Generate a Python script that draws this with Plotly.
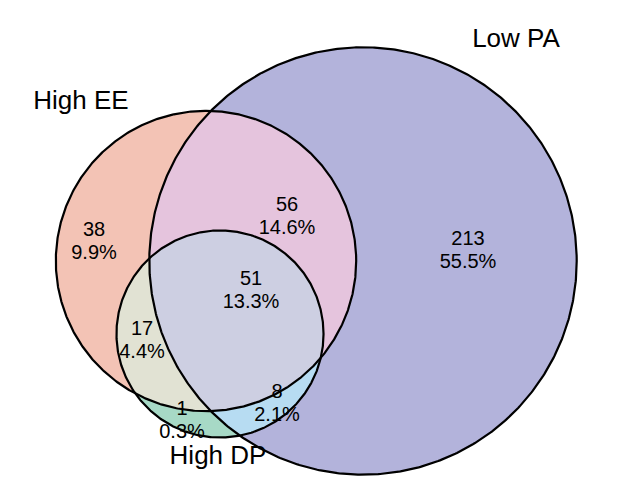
import numpy as np
import plotly.graph_objects as go

# --- data ---------------------------------------------------------------
set_names = ["High EE", "Low PA", "High DP"]

# region -> which sets it belongs to (index into set_names)
region_sets = [(0,), (1,), (2,), (0, 1), (0, 2), (1, 2), (0, 1, 2)]
region_counts = [38, 213, 1, 56, 17, 8, 51]

# --- layout (pixels on a 644x487 canvas) -------------------------------
W, H = 644, 487
PAGE_MARGIN = 8             # default body margin of the html page
centers = [(206, 261), (363, 261), (220, 334)]
px_per_sqrt = 11.8          # circle area proportional to set size

region_colors = ["#F3C3B5", "#B3B3DB", "#A7D9C6",
                 "#E5C4DD", "#E1E2D3", "#B7DCF2", "#CDCFE2"]

# label centres for each region (count above, percent below)
region_label_pos = [(94, 242), (468, 251), (182, 421),
                    (287, 217), (142, 341), (277, 404), (251, 291)]
set_label_pos = [(81, 102), (516, 40), (218, 457)]

FONT = "Liberation Sans, Arial, sans-serif"

total = sum(region_counts)
set_sizes = [sum(c for s, c in zip(region_sets, region_counts) if i in s)
             for i in range(len(set_names))]
radii = [px_per_sqrt * np.sqrt(n) for n in set_sizes]


def circle_pts(i, n=720):
    t = np.linspace(0, 2 * np.pi, n, endpoint=False)
    cx, cy = centers[i]
    return np.column_stack([cx + radii[i] * np.cos(t), cy + radii[i] * np.sin(t)])


def inside(p, j, eps=1e-6):
    cx, cy = centers[j]
    return np.hypot(p[:, 0] - cx, p[:, 1] - cy) <= radii[j] + eps


def pair_points(i, j):
    (x0, y0), (x1, y1) = centers[i], centers[j]
    r0, r1 = radii[i], radii[j]
    d = np.hypot(x1 - x0, y1 - y0)
    if d > r0 + r1 or d < abs(r0 - r1):
        return np.empty((0, 2))
    a = (r0**2 - r1**2 + d**2) / (2 * d)
    h = np.sqrt(max(r0**2 - a**2, 0))
    mx, my = x0 + a * (x1 - x0) / d, y0 + a * (y1 - y0) / d
    return np.array([[mx + h * (y1 - y0) / d, my - h * (x1 - x0) / d],
                     [mx - h * (y1 - y0) / d, my + h * (x1 - x0) / d]])


def intersection_polygon(sets):
    # intersection of circles is convex: collect boundary points, sort by angle
    pts = []
    for i in sets:
        p = circle_pts(i)
        keep = np.ones(len(p), bool)
        for j in sets:
            if j != i:
                keep &= inside(p, j)
        pts.append(p[keep])
    for a in range(len(sets)):
        for b in range(a + 1, len(sets)):
            p = pair_points(sets[a], sets[b])
            keep = np.ones(len(p), bool)
            for j in sets:
                keep &= inside(p, j, eps=1e-3)
            pts.append(p[keep])
    pts = np.vstack(pts)
    c = pts.mean(axis=0)
    order = np.argsort(np.arctan2(pts[:, 1] - c[1], pts[:, 0] - c[0]))
    pts = pts[order]
    return np.vstack([pts, pts[:1]])


fig = go.Figure()

# painter's order: single sets, then pairs, then the triple overlap
for k in sorted(range(len(region_sets)), key=lambda k: len(region_sets[k])):
    poly = intersection_polygon(region_sets[k])
    fig.add_trace(go.Scatter(
        x=poly[:, 0], y=poly[:, 1], mode="lines", fill="toself",
        fillcolor=region_colors[k], line=dict(width=0),
        hoverinfo="skip", showlegend=False))

# outlines
for i in range(len(set_names)):
    p = circle_pts(i, 721)
    p = np.vstack([p, p[:1]])
    fig.add_trace(go.Scatter(
        x=p[:, 0], y=p[:, 1], mode="lines",
        line=dict(color="black", width=2.2),
        hoverinfo="skip", showlegend=False))

# region labels
lx = [p[0] for p in region_label_pos]
ly = [p[1] for p in region_label_pos]
fig.add_trace(go.Scatter(
    x=lx, y=[y - 11.5 for y in ly], mode="text",
    text=[str(c) for c in region_counts],
    textfont=dict(family=FONT, size=20, color="black"),
    hoverinfo="skip", showlegend=False))
fig.add_trace(go.Scatter(
    x=lx, y=[y + 11.5 for y in ly], mode="text",
    text=["%.1f%%" % (100 * c / total) for c in region_counts],
    textfont=dict(family=FONT, size=20, color="black"),
    hoverinfo="skip", showlegend=False))

# set names
fig.add_trace(go.Scatter(
    x=[p[0] for p in set_label_pos], y=[p[1] for p in set_label_pos],
    mode="text", text=set_names,
    textfont=dict(family=FONT, size=26, color="black"),
    hoverinfo="skip", showlegend=False))

m = PAGE_MARGIN
fig.update_layout(
    width=W - 2 * m, height=H - 2 * m,
    margin=dict(l=0, r=0, t=0, b=0),
    paper_bgcolor="white", plot_bgcolor="white",
    xaxis=dict(range=[m, W - m], visible=False, fixedrange=True),
    yaxis=dict(range=[H - m, m], visible=False, fixedrange=True),
)

fig.write_html("out.html")
